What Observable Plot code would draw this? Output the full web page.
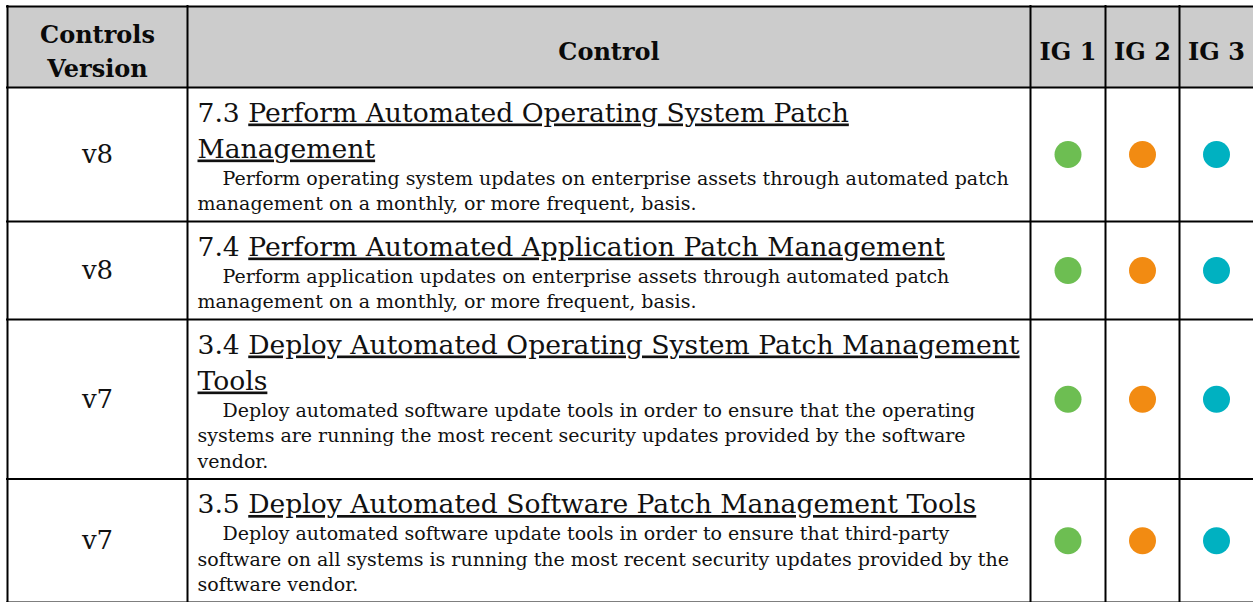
<!DOCTYPE html>
<html>
<head>
<meta charset="utf-8">
<script src="https://cdn.jsdelivr.net/npm/d3@7"></script>
<script src="https://cdn.jsdelivr.net/npm/@observablehq/plot@0.6"></script>
<style>
  html, body { margin: 0; padding: 0; background: #ffffff; }
  svg { display: block; }
</style>
</head>
<body>
<div id="chart"></div>
<script>
// ---------- data ----------
const headers = ["Controls\nVersion", "Control", "IG 1", "IG 2", "IG 3"];
const versions = ["v8", "v8", "v7", "v7"];
const controlIds = ["7.3", "7.4", "3.4", "3.5"];
const titleLines = [
  ["Perform Automated Operating System Patch", "Management"],
  ["Perform Automated Application Patch Management"],
  ["Deploy Automated Operating System Patch Management", "Tools"],
  ["Deploy Automated Software Patch Management Tools"]
];
const descLines = [
  ["Perform operating system updates on enterprise assets through automated patch",
   "management on a monthly, or more frequent, basis."],
  ["Perform application updates on enterprise assets through automated patch",
   "management on a monthly, or more frequent, basis."],
  ["Deploy automated software update tools in order to ensure that the operating",
   "systems are running the most recent security updates provided by the software",
   "vendor."],
  ["Deploy automated software update tools in order to ensure that third-party",
   "software on all systems is running the most recent security updates provided by the",
   "software vendor."]
];
const igLabels = ["IG 1", "IG 2", "IG 3"];
const igFlags = [
  [true, true, true],
  [true, true, true],
  [true, true, true],
  [true, true, true]
];
const igColors = ["#6dbe52", "#f28b12", "#00b1c1"];

// ---------- layout ----------
const W = 1253, H = 602;
const colEdges = [7, 187, 1030, 1105, 1179, W];
const tableTop = 6, headerBottom = 87;
const firstBase = 34, titleLH = 36, descLH = 25.5, padBottom = 13, indent = 25;
const titleFS = 26.6, descFS = 19, versionFS = 26, headerFS = 24;
const textLeft = colEdges[1] + 10;

const rows = [];
let y0 = headerBottom;
versions.forEach((v, i) => {
  const nt = titleLines[i].length, nd = descLines[i].length;
  const h = firstBase + titleLH * (nt - 1) + descLH * nd + padBottom;
  rows.push({y0, y1: y0 + h});
  y0 += h;
});

const headerData = headers.map((t, i) => ({
  text: t, x: (colEdges[i] + colEdges[i + 1]) / 2, y: (tableTop + headerBottom) / 2 + 2
}));
const versionData = versions.map((v, i) => ({
  text: v, x: (colEdges[0] + colEdges[1]) / 2, y: (rows[i].y0 + rows[i].y1) / 2
}));
const titleData = [];
const descData = [];
rows.forEach((r, i) => {
  titleLines[i].forEach((t, j) => {
    const base = r.y0 + firstBase + titleLH * j;
    titleData.push({id: j === 0 ? controlIds[i] : null, title: t,
      full: (j === 0 ? controlIds[i] + " " : "") + t, x: textLeft, y: base - 0.32 * titleFS});
  });
  const tb = r.y0 + firstBase + titleLH * (titleLines[i].length - 1);
  descLines[i].forEach((t, k) => {
    const base = tb + descLH * (k + 1) + 1.5;
    descData.push({text: t, x: textLeft + (k === 0 ? indent : 0), y: base - 0.32 * descFS});
  });
});
const dotData = [];
rows.forEach((r, i) => igLabels.forEach((g, j) => {
  if (igFlags[i][j]) dotData.push({x: (colEdges[j + 2] + colEdges[j + 3]) / 2,
    y: (r.y0 + r.y1) / 2, color: igColors[j]});
}));
const hLines = [tableTop, headerBottom, ...rows.map(r => r.y1)].map(y => ({y, x1: colEdges[0] - 1, x2: W}));
const vLines = colEdges.slice(0, -1).map(x => ({x, y1: tableTop - 1, y2: H}));
const headerBg = [{x1: colEdges[0], x2: W, y1: tableTop, y2: headerBottom}];

const plot = Plot.plot({
  width: W, height: H, margin: 0,
  x: {domain: [0, W], range: [0, W], axis: null},
  y: {domain: [0, H], range: [0, H], axis: null},
  color: {type: "identity"},
  style: {fontFamily: "'DejaVu Serif', serif", background: "#ffffff", color: "#000000"},
  marks: [
    Plot.rect(headerBg, {x1: "x1", x2: "x2", y1: "y1", y2: "y2", fill: "#cccccc"}),
    Plot.ruleY(hLines, {y: "y", x1: "x1", x2: "x2", stroke: "#000000", strokeWidth: 2}),
    Plot.ruleX(vLines, {x: "x", y1: "y1", y2: "y2", stroke: "#000000", strokeWidth: 2}),
    Plot.text(headerData, {x: "x", y: "y", text: "text", fontSize: headerFS, fontWeight: "bold",
      lineHeight: 1.4, lineAnchor: "middle", fill: "#0a0a0a"}),
    Plot.text(versionData, {x: "x", y: "y", text: "text", fontSize: versionFS, lineAnchor: "middle", fill: "#111111"}),
    Plot.text(titleData, {x: "x", y: "y", text: "full", fontSize: titleFS, textAnchor: "start",
      lineAnchor: "middle", fill: "#111111", ariaDescription: "control titles"}),
    Plot.text(descData, {x: "x", y: "y", text: "text", fontSize: descFS, textAnchor: "start",
      lineAnchor: "middle", fill: "#111111"}),
    Plot.dot(dotData, {x: "x", y: "y", r: 13.5, fill: "color"})
  ]
});

d3.select(plot).select('g[aria-description="control titles"]').selectAll("text").each(function(_, i) {
  const d = titleData[i];
  const t = d3.select(this);
  t.text(null);
  if (d.id) t.append("tspan").text(d.id + " ");
  t.append("tspan").attr("text-decoration", "underline").text(d.title);
});

document.getElementById("chart").appendChild(plot);
</script>
</body>
</html>
